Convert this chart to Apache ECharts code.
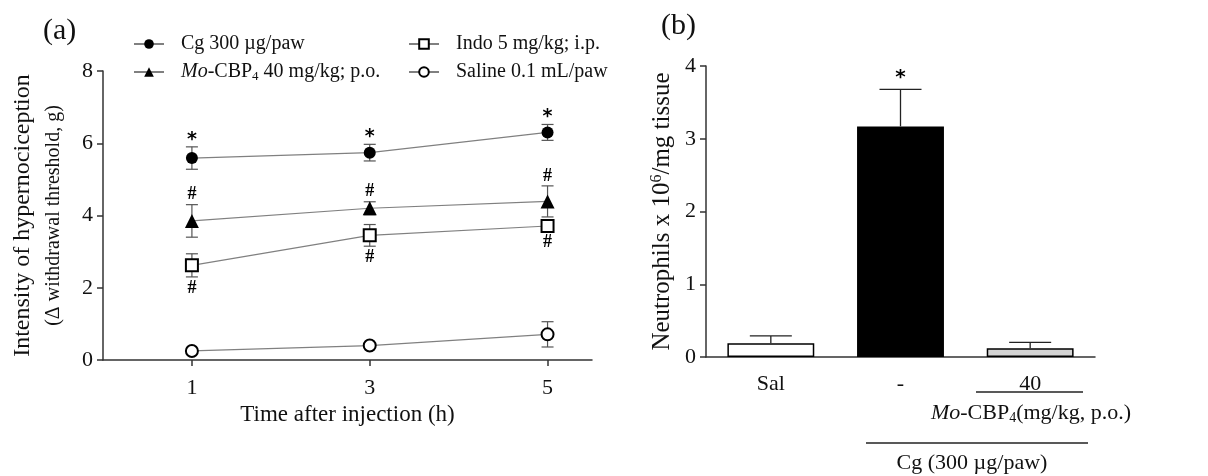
<!DOCTYPE html>
<html><head><meta charset="utf-8">
<script src="https://cdn.jsdelivr.net/npm/echarts@6/dist/echarts.min.js"></script>
<style>html,body{margin:0;padding:0;background:#fff}#c{width:1208px;height:476px}</style>
</head><body><div id="c"></div>
<script>
// ---------- Panel (a) data ----------
const timePoints = [1, 3, 5];
const xTicksA = [1, 3, 5];
const cgMean = [5.59, 5.74, 6.30];
const cgErr = [0.31, 0.23, 0.22];
const moMean = [3.85, 4.20, 4.39];
const moErr = [0.45, 0.18, 0.43];
const indoMean = [2.62, 3.45, 3.71];
const indoErr = [0.32, 0.30, 0.15];
const salMean = [0.25, 0.40, 0.71];
const salErr = [0.05, 0.05, 0.35];
const cgNotes = ['*', '*', '*'];
const moNotes = ['#', '#', '#'];
const indoNotes = ['#', '#', '#'];
const nameCg = 'Cg 300 µg/paw';
const nameMo = 'Mo-CBP4 40 mg/kg; p.o.';
const nameIndo = 'Indo 5 mg/kg; i.p.';
const nameSal = 'Saline 0.1 mL/paw';

// ---------- Panel (b) data ----------
const barCats = ['Sal', '-', '40'];
const barMean = [0.19, 3.17, 0.12];
const barErr = [0.10, 0.51, 0.08];
const barNotes = ['', '*', ''];
const barColors = ['#ffffff', '#000000', '#d4d4d4'];

const FF = 'Liberation Serif';
const AX = '#333';
const TXT = '#111';

function pts(mean) { return timePoints.map((t, i) => [t, mean[i]]); }
function errData(mean, err) { return timePoints.map((t, i) => [t, mean[i], err[i]]); }

function makeErr(notes, side) {
  return function (params, api) {
    const x = api.value(0), m = api.value(1), e = api.value(2);
    const top = api.coord([x, m + e]), bot = api.coord([x, m - e]);
    const h = 6;
    const st = { stroke: '#555', lineWidth: 1.2 };
    const ch = [
      { type: 'line', shape: { x1: top[0], y1: top[1], x2: bot[0], y2: bot[1] }, style: st },
      { type: 'line', shape: { x1: top[0] - h, y1: top[1], x2: top[0] + h, y2: top[1] }, style: st },
      { type: 'line', shape: { x1: bot[0] - h, y1: bot[1], x2: bot[0] + h, y2: bot[1] }, style: st }
    ];
    const n = notes ? notes[params.dataIndex] : '';
    if (n) {
      const isStar = n === '*';
      const yy = side === 'below' ? bot[1] + 11 : top[1] - (isStar ? 7 : 10);
      ch.push({ type: 'text', style: { text: n, x: top[0], y: yy, align: 'center', verticalAlign: 'middle',
        fontSize: isStar ? 19 : 18, fontWeight: 'bold', fontFamily: isStar ? 'DejaVu Sans' : FF, fill: '#000' } });
    }
    return { type: 'group', children: ch };
  };
}

function barErrRender(params, api) {
  const i = api.value(0), m = api.value(1), e = api.value(2);
  const a = api.coord([i, m]), b = api.coord([i, m + e]);
  const h = 21;
  const st = { stroke: '#222', lineWidth: 1.3 };
  const ch = [
    { type: 'line', shape: { x1: a[0], y1: a[1], x2: b[0], y2: b[1] }, style: st },
    { type: 'line', shape: { x1: b[0] - h, y1: b[1], x2: b[0] + h, y2: b[1] }, style: st }
  ];
  const n = barNotes[params.dataIndex];
  if (n) ch.push({ type: 'text', style: { text: n, x: b[0], y: b[1] - 11, align: 'center', verticalAlign: 'middle',
      fontSize: 20, fontWeight: 'bold', fontFamily: 'DejaVu Sans', fill: '#000' } });
  return { type: 'group', children: ch };
}

const axisCommon = {
  axisLine: { show: true, lineStyle: { color: AX, width: 1.5 } },
  axisTick: { show: true, length: 6, lineStyle: { color: AX, width: 1.5 } },
  splitLine: { show: false },
  axisLabel: { color: TXT, fontSize: 22, fontFamily: FF }
};

function lineSeries(name, mean, symbol, size) {
  return {
    type: 'line', name, data: pts(mean), xAxisIndex: 0, yAxisIndex: 0,
    symbol, symbolSize: size, z: 3,
    lineStyle: { color: '#808080', width: 1.2 },
    itemStyle: { color: '#000', borderWidth: 1.5 },
    emphasis: { disabled: true }
  };
}

const legendText = {
  color: TXT, fontSize: 20, fontFamily: FF, padding: [0, 0, 0, 12],
  rich: {
    it: { fontStyle: 'italic', fontSize: 20, fontFamily: FF, color: TXT },
    sub: { fontSize: 13, fontFamily: FF, color: TXT, padding: [9, 0, 0, 0] },
    n: { fontSize: 20, fontFamily: FF, color: TXT }
  }
};
function legendFmt(name) {
  if (name === nameMo) return '{it|Mo}{n|-CBP}{sub|4}{n| 40 mg/kg; p.o.}';
  return name;
}

const option = {
  backgroundColor: '#fff',
  animation: false,
  title: [
    { text: '(a)', left: 38, top: 11, textStyle: { fontSize: 30, fontWeight: 'normal', fontFamily: FF, color: TXT } },
    { text: '(b)', left: 656, top: 6, textStyle: { fontSize: 30, fontWeight: 'normal', fontFamily: FF, color: TXT } }
  ],
  legend: [
    { data: [nameCg, nameMo], left: 128, top: 29, orient: 'vertical', itemWidth: 30, itemHeight: 12, itemGap: 8,
      textStyle: legendText, formatter: legendFmt, selectedMode: false },
    { data: [nameIndo, nameSal], left: 403, top: 29, orient: 'vertical', itemWidth: 30, itemHeight: 12, itemGap: 8,
      textStyle: legendText, formatter: legendFmt, selectedMode: false }
  ],
  grid: [
    { left: 103, top: 71, width: 489, height: 289 },
    { left: 706, top: 66, width: 389, height: 291 }
  ],
  xAxis: [
    Object.assign({}, axisCommon, {
      type: 'value', gridIndex: 0, min: 0, max: 5.5,
      axisTick: { show: true, length: 6, lineStyle: { color: AX, width: 1.5 }, customValues: xTicksA },
      axisLabel: { color: TXT, fontSize: 22, fontFamily: FF, margin: 17, customValues: xTicksA },
      name: 'Time after injection (h)', nameLocation: 'middle', nameGap: 43,
      nameTextStyle: { color: TXT, fontSize: 23, fontFamily: FF }
    }),
    Object.assign({}, axisCommon, {
      type: 'category', gridIndex: 1, data: barCats,
      axisTick: { show: false },
      axisLabel: { color: TXT, fontSize: 22, fontFamily: FF, margin: 16 }
    })
  ],
  yAxis: [
    Object.assign({}, axisCommon, {
      type: 'value', gridIndex: 0, min: 0, max: 8, interval: 2,
      axisLabel: { color: TXT, fontSize: 22, fontFamily: FF, margin: 10 },
      name: '{a|Intensity of hypernociception}\n{b|(Δ withdrawal threshold, g)}',
      nameLocation: 'middle', nameGap: 34,
      nameTextStyle: { color: TXT, fontFamily: FF, lineHeight: 31,
        rich: { a: { fontSize: 24, fontFamily: FF, color: TXT, lineHeight: 31 },
                b: { fontSize: 20, fontFamily: FF, color: TXT, lineHeight: 31 } } }
    }),
    Object.assign({}, axisCommon, {
      type: 'value', gridIndex: 1, min: 0, max: 4, interval: 1,
      axisLabel: { color: TXT, fontSize: 22, fontFamily: FF, margin: 10 },
      name: 'Neutrophils x 10{sup|6}/mg tissue',
      nameLocation: 'middle', nameGap: 31,
      nameTextStyle: { color: TXT, fontSize: 25, fontFamily: FF,
        rich: { sup: { fontSize: 16, fontFamily: FF, color: TXT, padding: [0, 0, 10, 0] } } }
    })
  ],
  series: [
    { type: 'custom', name: 'errCg', xAxisIndex: 0, yAxisIndex: 0, z: 2, data: errData(cgMean, cgErr), renderItem: makeErr(cgNotes, 'above') },
    { type: 'custom', name: 'errMo', xAxisIndex: 0, yAxisIndex: 0, z: 2, data: errData(moMean, moErr), renderItem: makeErr(moNotes, 'above') },
    { type: 'custom', name: 'errIndo', xAxisIndex: 0, yAxisIndex: 0, z: 2, data: errData(indoMean, indoErr), renderItem: makeErr(indoNotes, 'below') },
    { type: 'custom', name: 'errSal', xAxisIndex: 0, yAxisIndex: 0, z: 2, data: errData(salMean, salErr), renderItem: makeErr(null, 'above') },
    lineSeries(nameCg, cgMean, 'circle', 12),
    lineSeries(nameMo, moMean, 'triangle', 14),
    lineSeries(nameIndo, indoMean, 'emptyRect', 12),
    lineSeries(nameSal, salMean, 'emptyCircle', 12),
    {
      type: 'bar', name: 'neutrophils', xAxisIndex: 1, yAxisIndex: 1, barWidth: '67%', z: 2,
      data: barMean.map((v, i) => ({ value: v, itemStyle: { color: barColors[i] } })),
      itemStyle: { borderColor: '#000', borderWidth: 1.5 },
      emphasis: { disabled: true }
    },
    { type: 'custom', name: 'errBar', xAxisIndex: 1, yAxisIndex: 1, z: 3,
      data: barMean.map((v, i) => [i, v, barErr[i]]), renderItem: barErrRender }
  ],
  graphic: [
    { type: 'line', shape: { x1: 976, y1: 392, x2: 1083, y2: 392 }, style: { stroke: '#222', lineWidth: 1.3 } },
    { type: 'text', x: 1031, y: 413, style: { text: '{it|Mo}-CBP{sub|4}(mg/kg, p.o.)', fontSize: 22, fontFamily: FF, fill: TXT,
        align: 'center', verticalAlign: 'middle',
        rich: { it: { fontStyle: 'italic', fontSize: 22, fontFamily: FF, fill: TXT },
                sub: { fontSize: 14, fontFamily: FF, fill: TXT, padding: [10, 0, 0, 0] } } } },
    { type: 'line', shape: { x1: 866, y1: 443, x2: 1088, y2: 443 }, style: { stroke: '#222', lineWidth: 1.3 } },
    { type: 'text', x: 972, y: 463, style: { text: 'Cg (300 µg/paw)', fontSize: 22, fontFamily: FF, fill: TXT,
        align: 'center', verticalAlign: 'middle' } }
  ]
};

const chart = echarts.init(document.getElementById('c'), null, { renderer: 'canvas' });
chart.setOption(option);
</script>
</body></html>
